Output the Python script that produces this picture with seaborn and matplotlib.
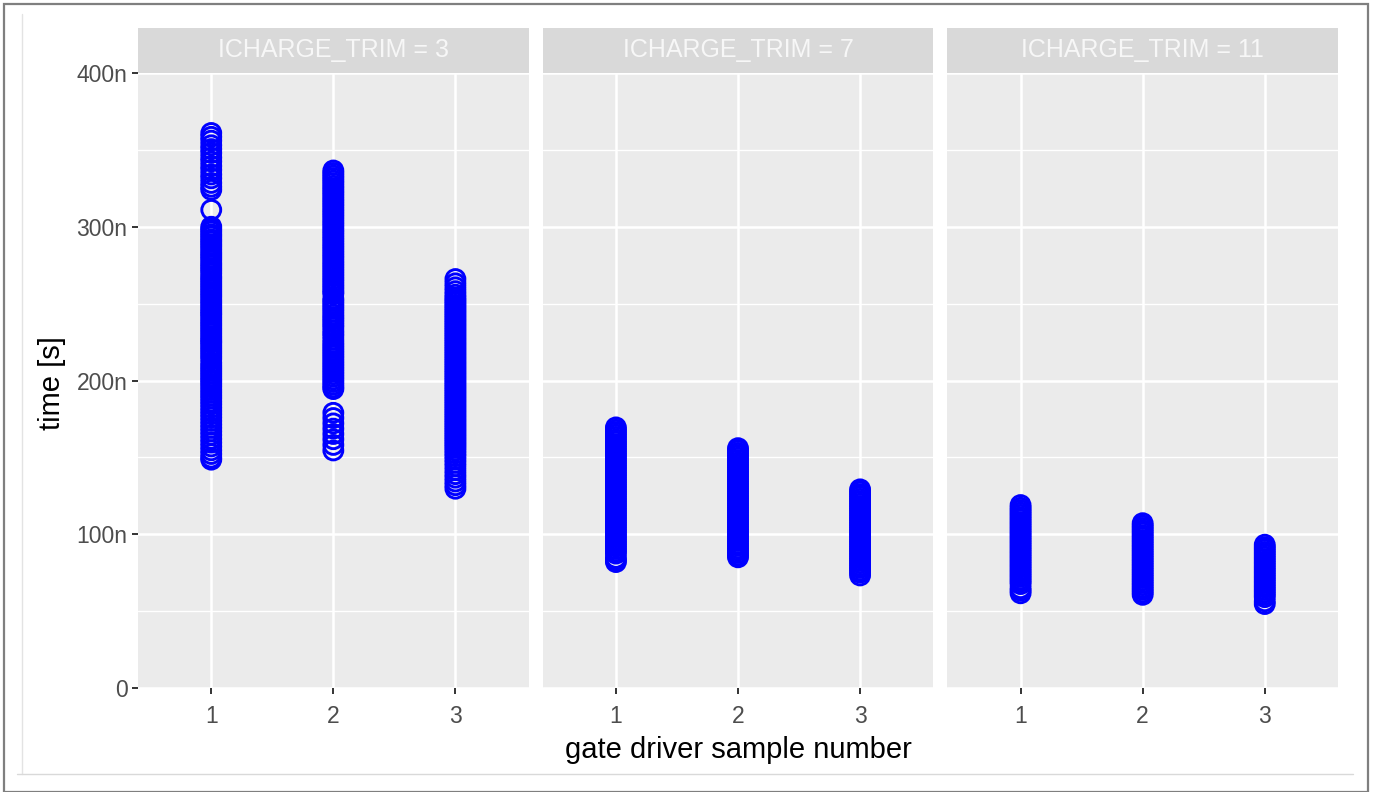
import matplotlib
matplotlib.use("Agg")
import matplotlib.pyplot as plt
import seaborn as sns
import pandas as pd
from matplotlib.patches import Rectangle
from matplotlib.lines import Line2D
from matplotlib.ticker import FixedLocator, FixedFormatter

# ---------------- data (values in ns) ----------------
trims = [3, 7, 11]
samples = [1, 2, 3]
strip_labels = ["ICHARGE_TRIM = 3", "ICHARGE_TRIM = 7", "ICHARGE_TRIM = 11"]
y_tick_values = [0, 100e-9, 200e-9, 300e-9, 400e-9]
y_tick_labels = ["0", "100n", "200n", "300n", "400n"]
y_minor_values = [50e-9, 150e-9, 250e-9, 350e-9]
x_tick_labels = ["1", "2", "3"]

t3_s1 = [361, 358.5, 356, 353, 350.5, 348, 345, 342.5, 339.5, 337, 334, 331.5, 328.5, 326, 324,
         311,
         300, 298.4, 296.9, 295.1, 293.6, 291.8, 290.3, 288.6, 287.0, 285.2, 283.3, 281.7, 280.1,
         278.4, 276.4, 274.8, 273.1, 271.5, 269.7, 267.6, 266.1, 264.4, 262.7, 261.0, 259.3,
         257.6, 255.9, 254.3, 252.4, 250.8, 249.1, 247.3, 245.6, 244.0, 242.7, 240.9, 239.1,
         237.4, 235.8, 234.0, 232.3, 230.6, 228.8, 227.1, 225.6, 224.4, 222.6, 220.9, 219.2,
         217.5, 215.7, 214.0, 211.5, 209.6, 207.9, 206.2, 204.5, 202.8, 201.0, 199.5, 197.8,
         196.0, 194.0, 192.2, 190.3, 188.5, 186.4, 184.5, 182.3, 180.2, 178.1, 176.0, 173.7,
         171.4, 169.2, 166.9, 164.5, 162.0, 159.6, 157.1, 154.6, 152.2, 149.8, 148.5]
t3_s2 = [336.6, 335.0, 333.3, 331.7, 330.0, 328.4, 326.6, 325.0, 323.3, 321.7, 320.0, 318.2,
         316.6, 314.9, 313.3, 311.5, 309.9, 308.2, 306.6, 304.8, 303.1, 301.5, 299.8, 298.0,
         296.4, 294.7, 293.0, 291.4, 289.6, 287.9, 286.3, 284.6, 282.9, 281.2, 279.6, 277.8,
         276.1, 274.5, 272.8, 271.1, 269.4, 267.7, 266.0, 264.4, 262.6, 261.0, 259.3, 257.6,
         256.5, 253.2, 251.7, 250.0, 248.3, 246.6, 244.9, 243.0, 241.3, 239.7, 238.0, 236.2,
         234.6, 232.4, 230.6, 228.9, 226.6, 224.6, 222.9, 221.2, 219.5, 217.8, 216.1, 214.4,
         212.6, 210.9, 209.2, 207.5, 205.8, 204.1, 202.4, 200.7, 199.0, 197.3, 195.6, 194.4,
         179.0, 175.6, 172.1, 168.7, 165.2, 161.8, 158.1, 154.5]
t3_s3 = [266.0, 263.2, 260.6, 258.1, 255.8, 253.9, 252.3, 250.8, 249.2, 247.7, 246.1, 244.6,
         243.0, 241.5, 239.9, 238.4, 236.8, 235.3, 233.7, 232.2, 230.6, 229.1, 227.5, 226.0,
         224.4, 222.9, 221.3, 219.8, 218.2, 216.7, 215.1, 213.6, 212.0, 210.5, 208.9, 207.4,
         205.8, 204.3, 202.7, 201.2, 199.6, 198.1, 196.5, 195.0, 193.4, 191.9, 190.3, 188.8,
         187.2, 185.7, 184.1, 182.6, 181.0, 179.5, 177.9, 176.4, 174.8, 173.3, 171.7, 170.2,
         168.6, 167.1, 165.5, 164.0, 162.4, 160.9, 159.3, 157.8, 156.2, 154.5, 152.6, 150.8,
         148.7, 146.5, 144.2, 141.6, 139.1, 136.8, 134.3, 131.9, 129.6]
t7_s1 = [169.5, 167.9, 166.4, 164.8, 163.3, 161.7, 160.2, 158.6, 157.1, 155.5, 154.0, 152.4,
         150.9, 149.3, 147.8, 146.2, 144.7, 143.1, 141.6, 140.0, 138.5, 136.9, 135.4, 133.8,
         132.3, 130.7, 129.2, 127.6, 126.1, 124.5, 123.0, 121.4, 119.9, 118.3, 116.8, 115.2,
         113.7, 112.1, 110.6, 109.0, 107.5, 105.9, 104.4, 102.8, 101.3, 99.7, 98.2, 96.6,
         95.1, 93.5, 92.0, 90.4, 88.9, 87.4, 84.6, 83.2, 81.9]
t7_s2 = [156.0, 154.5, 152.9, 151.4, 149.8, 148.3, 146.7, 145.2, 143.6, 142.1, 140.5, 139.0,
         137.4, 135.9, 134.3, 132.8, 131.2, 129.7, 128.1, 126.6, 125.0, 123.5, 121.9, 120.4,
         118.8, 117.3, 115.7, 114.2, 112.6, 111.1, 109.5, 108.0, 106.4, 104.9, 103.3, 101.8,
         100.2, 98.7, 97.1, 95.6, 94.0, 92.5, 90.9, 89.4, 87.8, 86.3, 85.0]
t7_s3 = [129.2, 127.7, 126.1, 124.6, 123.0, 121.5, 119.9, 118.4, 116.8, 115.3, 113.7, 112.2,
         110.6, 109.1, 107.5, 106.0, 104.4, 102.9, 101.3, 99.8, 98.2, 96.7, 95.1, 93.6,
         92.0, 90.5, 88.9, 87.4, 85.8, 84.3, 82.7, 81.2, 79.6, 78.1, 76.5, 75.0, 73.2]
t11_s1 = [119.0, 117.2, 115.7, 114.1, 112.6, 111.0, 109.5, 107.9, 106.4, 104.8, 103.3, 101.7,
          100.2, 98.6, 97.1, 95.5, 94.0, 92.4, 90.9, 89.3, 87.8, 86.2, 84.7, 83.1, 81.6,
          80.0, 78.5, 76.9, 75.4, 73.8, 72.3, 70.7, 69.2, 67.6, 64.9, 63.3, 61.6]
t11_s2 = [107.2, 105.6, 104.1, 102.5, 101.0, 99.4, 97.9, 96.3, 94.8, 93.2, 91.7, 90.1, 88.6,
          87.0, 85.5, 83.9, 82.4, 80.8, 79.3, 77.7, 76.2, 74.6, 73.1, 71.5, 70.0, 68.4,
          66.9, 65.3, 63.8, 62.2, 60.6]
t11_s3 = [93.2, 91.6, 90.1, 88.5, 87.0, 85.4, 83.9, 82.3, 80.8, 79.2, 77.7, 76.1, 74.6, 73.0,
          71.5, 69.9, 68.4, 66.8, 65.3, 63.7, 62.2, 60.6, 59.1, 56.4, 54.6]

groups = [(3, 1, t3_s1), (3, 2, t3_s2), (3, 3, t3_s3),
          (7, 1, t7_s1), (7, 2, t7_s2), (7, 3, t7_s3),
          (11, 1, t11_s1), (11, 2, t11_s2), (11, 3, t11_s3)]
rows = []
for trim, sample, vals in groups:
    for v in vals:
        rows.append((trim, sample, v * 1e-9))
df = pd.DataFrame(rows, columns=["ICHARGE_TRIM", "sample", "time"])

# ---------------- style ----------------
W, H = 1373, 792
sns.set_style("darkgrid", rc={
    "axes.facecolor": "#EBEBEB",
    "grid.color": "white",
    "axes.edgecolor": "none",
    "xtick.bottom": True,
    "ytick.left": True,
})
plt.rcParams["font.family"] = ["Liberation Sans", "DejaVu Sans"]

g = sns.FacetGrid(df, col="ICHARGE_TRIM", col_order=trims, sharex=True, sharey=True,
                  height=7.92, aspect=0.5, despine=False)
g.map_dataframe(sns.scatterplot, x="sample", y="time", marker="o",
                color="#0000FF", facecolor="none", edgecolor="#0000FF",
                linewidth=2.1, s=185, legend=False)

fig = g.figure
fig.set_size_inches(W / 100, H / 100)
fig.set_dpi(100)
fig.patch.set_facecolor("white")

left, right = 138 / W, 1338 / W
bottom, top = 1 - 688 / H, 1 - 73 / H
panel_w = (1338 - 138 - 2 * 14) / 3
fig.subplots_adjust(left=left, right=right, bottom=bottom, top=top, wspace=14 / panel_w)

strip_h = 45 / 615
for i, ax in enumerate(g.axes.flat):
    ax.set_title("")
    ax.set_xlabel("")
    ax.set_ylabel("")
    ax.set_xlim(0.4, 3.6)
    ax.set_ylim(0, 400e-9)
    for sp in ax.spines.values():
        sp.set_visible(False)
    ax.xaxis.set_major_locator(FixedLocator(samples))
    ax.xaxis.set_major_formatter(FixedFormatter(x_tick_labels))
    ax.yaxis.set_major_locator(FixedLocator(y_tick_values))
    ax.yaxis.set_major_formatter(FixedFormatter(y_tick_labels))
    ax.yaxis.set_minor_locator(FixedLocator(y_minor_values))
    ax.grid(which="major", color="white", linewidth=1.8)
    ax.grid(which="minor", axis="y", color="white", linewidth=1.0)
    ax.grid(which="minor", axis="x", visible=False)
    ax.set_axisbelow(True)
    ax.tick_params(axis="both", which="major", direction="out", length=4.5, width=1.4,
                   color="#333333", labelcolor="#4D4D4D", labelsize=16.5, pad=3,
                   left=True, bottom=True)
    ax.tick_params(axis="x", pad=8)
    ax.tick_params(which="minor", length=0, left=False, bottom=False)
    if i > 0:
        ax.tick_params(axis="y", left=False, length=0, labelleft=False)
    else:
        ax.tick_params(axis="y", labelleft=True)
    ax.tick_params(axis="x", labelbottom=True)
    ax.add_patch(Rectangle((0, 1), 1, strip_h, transform=ax.transAxes, clip_on=False,
                           facecolor="#D9D9D9", edgecolor="none", zorder=3))
    ax.text(0.5, 1 + strip_h / 2, strip_labels[i], transform=ax.transAxes,
            ha="center", va="center", fontsize=18, color="#F7F7F7", zorder=4)

fig.text(738 / W, 1 - 750 / H, "gate driver sample number", ha="center", va="center",
         fontsize=21, color="black")
fig.text(52 / W, 1 - 383 / H, "time [s]", ha="center", va="center", rotation=90,
         fontsize=21, color="black")

# frames of the original screenshot
fig.add_artist(Rectangle((4 / W, 0), 1364 / W, 1 - 4 / H, transform=fig.transFigure,
                         facecolor="none", edgecolor="#7F7F7F", linewidth=1.6))
fig.add_artist(Line2D([22 / W, 22 / W], [1 - 14 / H, 1 - 774 / H], transform=fig.transFigure,
                      color="#E3E3E3", linewidth=1.0))
fig.add_artist(Line2D([17 / W, 1353 / W], [1 - 774 / H, 1 - 774 / H], transform=fig.transFigure,
                      color="#D9D9D9", linewidth=1.0))

fig.savefig("out.png", dpi=100)
